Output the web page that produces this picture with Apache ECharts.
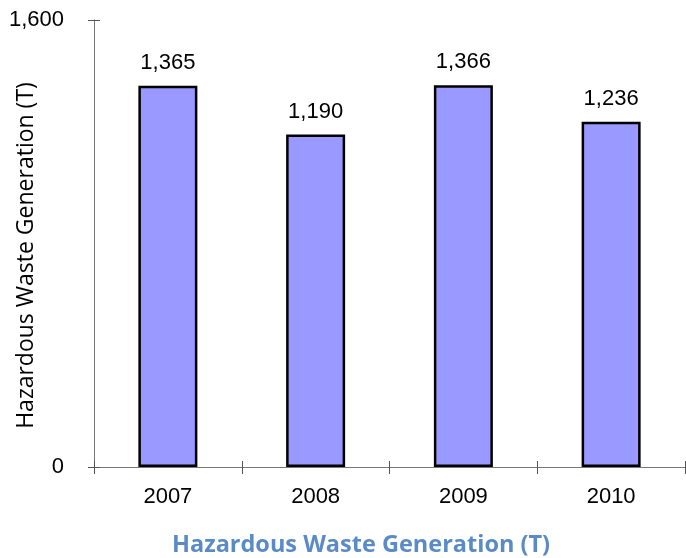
<!DOCTYPE html>
<html>
<head>
<meta charset="utf-8">
<script src="https://cdn.jsdelivr.net/npm/echarts@6/dist/echarts.min.js"></script>
<style>
  html, body { margin: 0; padding: 0; background: #fff; }
  #chart { width: 686px; height: 558px; }
</style>
</head>
<body>
<div id="chart"></div>
<script>
// Annual hazardous waste generation, tonnes
const years = ['2007', '2008', '2009', '2010'];
const wasteTonnes = [1365, 1190, 1366, 1236];
const yTicks = [0, 1600];

const chart = echarts.init(document.getElementById('chart'), null, { renderer: 'canvas' });

const fmt = v => v.toLocaleString('en-US');
const axisGrey = '#777777';
const tickGrey = '#555555';

chart.setOption({
  animation: false,
  backgroundColor: '#ffffff',
  title: {
    text: 'Hazardous Waste Generation (T)',
    left: 167,
    top: 528,
    textStyle: {
      fontFamily: 'Open Sans',
      fontWeight: 'bold',
      fontSize: 23.5,
      color: '#5b8bc7'
    }
  },
  grid: { left: 94, right: 1, top: 20, bottom: 91, containLabel: false, outerBoundsMode: 'none' },
  xAxis: [{
    type: 'category',
    data: years,
    axisLine: { lineStyle: { color: axisGrey, width: 1 } },
    axisTick: { show: true, alignWithLabel: false, length: 7, lineStyle: { color: tickGrey } },
    axisLabel: { color: '#000', fontFamily: 'Liberation Sans', fontSize: 22, margin: 19 }
  }, {
    // inner half of the crossing category ticks
    type: 'category',
    data: years,
    position: 'bottom',
    axisLine: { show: false },
    axisTick: { show: true, inside: true, length: 6, lineStyle: { color: tickGrey } },
    axisLabel: { show: false }
  }],
  yAxis: [{
    type: 'value',
    min: yTicks[0],
    max: yTicks[yTicks.length - 1],
    interval: yTicks[1] - yTicks[0],
    name: 'Hazardous Waste Generation (T)',
    nameLocation: 'middle',
    nameGap: 56,
    nameMoveOverlap: false,
    nameTextStyle: { fontFamily: 'Open Sans', fontSize: 23, color: '#000', padding: [0, 24, 0, 0] },
    axisLine: { show: true, lineStyle: { color: axisGrey, width: 1 } },
    axisTick: { show: true, length: 6, lineStyle: { color: tickGrey } },
    splitLine: { show: false },
    axisLabel: { color: '#000', fontFamily: 'Liberation Sans', fontSize: 22, margin: 30, formatter: fmt }
  }, {
    // inner half of the crossing value ticks
    type: 'value',
    min: yTicks[0],
    max: yTicks[yTicks.length - 1],
    interval: yTicks[1] - yTicks[0],
    position: 'left',
    axisLine: { show: false },
    axisTick: { show: true, inside: true, length: 6, lineStyle: { color: tickGrey } },
    splitLine: { show: false },
    axisLabel: { show: false }
  }],
  series: [{
    type: 'bar',
    data: wasteTonnes,
    barWidth: 59,
    itemStyle: { color: '#9999ff', borderColor: '#000000', borderWidth: 2.5 },
    label: {
      show: true,
      position: 'top',
      distance: 12,
      color: '#000',
      fontFamily: 'Liberation Sans',
      fontSize: 22,
      formatter: p => fmt(p.value)
    }
  }]
});
</script>
</body>
</html>
